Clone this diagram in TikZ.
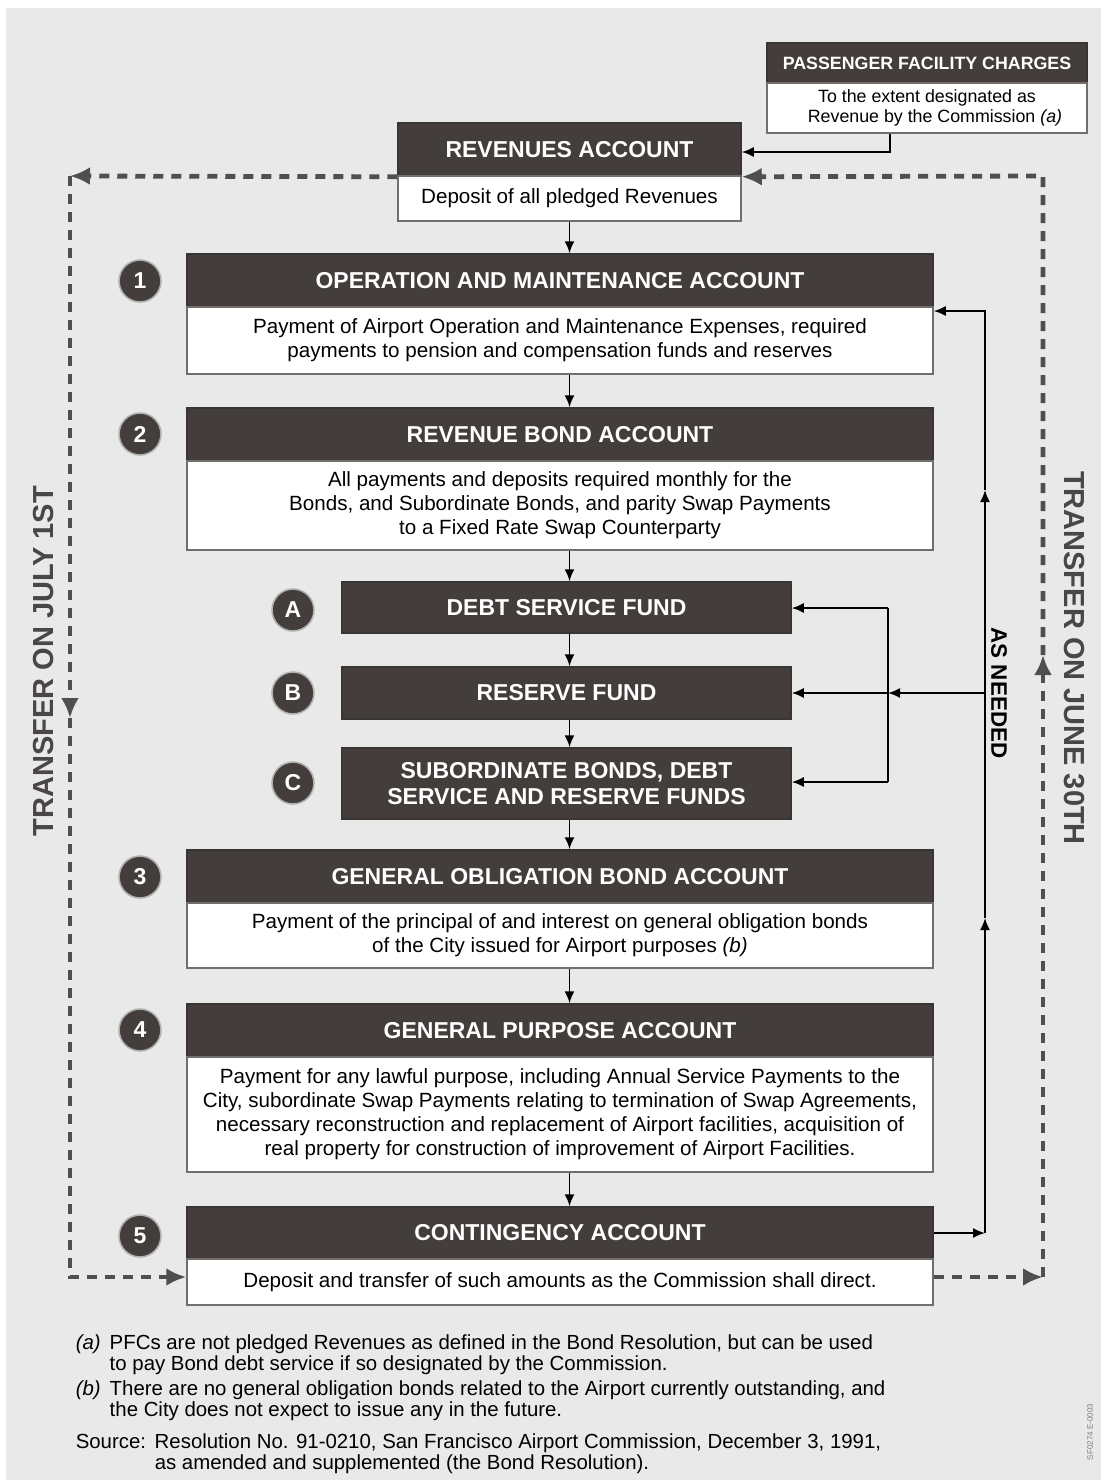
\documentclass[tikz,border=0pt]{standalone}
\usepackage{fontspec}
\setmainfont{Liberation Sans}
\usetikzlibrary{arrows.meta}

\definecolor{hdrgray}{HTML}{433E3B}
\definecolor{bggray}{HTML}{E9E9E9}
\definecolor{dashgray}{HTML}{4F4F4F}
\definecolor{txtgray}{HTML}{4A4646}

\tikzset{every picture/.style={line width=0.75pt}}
\tikzset{
	hdrbox/.style={draw=hdrgray!85!black, fill=hdrgray, text=white, inner sep=0pt, align=center, font=\bfseries\fontsize{11.5}{13}\selectfont},
	bodybox/.style={draw=hdrgray!75, fill=white, inner sep=0pt, align=center, font=\fontsize{10.3}{12}\selectfont},
	numcirc/.style={circle, fill=hdrgray, draw=gray!60, line width=0.8pt, minimum size=21pt, inner sep=0pt, text=white, font=\bfseries\fontsize{11.5}{11.5}\selectfont},
	flow/.style={-{Latex[length=6pt,width=5pt]}, line width=0.9pt, black},
	plainline/.style={line width=0.9pt, black},
	transferhead/.style={dashgray, line width=2.4pt, dash pattern=on 5pt off 4pt, -{Latex[length=10pt,width=9pt]}},
	transfertext/.style={text=txtgray, font=\bfseries\fontsize{14.5}{14.5}\selectfont},
	notetext/.style={anchor=north west, inner sep=0pt, align=left, font=\fontsize{10.2}{10.4}\selectfont},
}

\begin{document}
\begin{tikzpicture}[x=0.5pt,y=0.5pt,yscale=-1,xscale=1]
	%background
	\fill[white] (0,0) rectangle (1101,1483);
	\fill[bggray] (6,8) rectangle (1101,1480);
	
	%Passenger facility charges
	\node[hdrbox, minimum width=160pt, minimum height=20pt, font=\bfseries\fontsize{8.9}{10}\selectfont] (pfhd) at (927,63) {PASSENGER FACILITY CHARGES};
	\node[bodybox, minimum width=160pt, minimum height=25pt, font=\fontsize{8.9}{10}\selectfont] (pfbd) at (927,108) {To the extent designated as\\ \hspace*{8pt}Revenue by the Commission \textit{(a)}};
	
	%Revenues account
	\node[hdrbox, minimum width=171.5pt, minimum height=26.5pt] (revhd) at (569.5,149.5) {REVENUES ACCOUNT};
	\node[bodybox, minimum width=171.5pt, minimum height=22.5pt] (revbd) at (569.5,198.5) {Deposit of all pledged Revenues};
	
	%1
	\node[hdrbox, minimum width=373pt, minimum height=26.5pt] (omhd) at (560,280.5) {OPERATION AND MAINTENANCE ACCOUNT};
	\node[bodybox, minimum width=373pt, minimum height=33.5pt] (ombd) at (560,340.5) {Payment of Airport Operation and Maintenance Expenses, required\\ payments to pension and compensation funds and reserves};
	\node[numcirc] (n1) at (140,281) {1};
	
	%2
	\node[hdrbox, minimum width=373pt, minimum height=26.5pt] (rbhd) at (560,434.5) {REVENUE BOND ACCOUNT};
	\node[bodybox, minimum width=373pt, minimum height=44.5pt] (rbbd) at (560,505.5) {All payments and deposits required monthly for the\\ Bonds, and Subordinate Bonds, and parity Swap Payments\\ to a Fixed Rate Swap Counterparty};
	\node[numcirc] (n2) at (140,434) {2};
	
	%A B C
	\node[hdrbox, minimum width=224.5pt, minimum height=25.5pt] (dsf) at (566.5,607.5) {DEBT SERVICE FUND};
	\node[numcirc] (na) at (293,610) {A};
	\node[hdrbox, minimum width=224.5pt, minimum height=26pt] (rsf) at (566.5,693) {RESERVE FUND};
	\node[numcirc] (nb) at (293,693) {B};
	\node[hdrbox, minimum width=224.5pt, minimum height=35.5pt] (sub) at (566.5,783.5) {SUBORDINATE BONDS, DEBT\\ SERVICE AND RESERVE FUNDS};
	\node[numcirc] (nc) at (293,783) {C};
	
	%3
	\node[hdrbox, minimum width=373pt, minimum height=26.5pt] (gohd) at (560,876.5) {GENERAL OBLIGATION BOND ACCOUNT};
	\node[bodybox, minimum width=373pt, minimum height=32.5pt] (gobd) at (560,935.5) {Payment of the principal of and interest on general obligation bonds\\ of the City issued for Airport purposes \textit{(b)}};
	\node[numcirc] (n3) at (140,877) {3};
	
	%4
	\node[hdrbox, minimum width=373pt, minimum height=26.5pt] (gphd) at (560,1030.5) {GENERAL PURPOSE ACCOUNT};
	\node[bodybox, minimum width=373pt, minimum height=57.5pt] (gpbd) at (560,1114.5) {Payment for any lawful purpose, including Annual Service Payments to the\\ City, subordinate Swap Payments relating to termination of Swap Agreements,\\ necessary reconstruction and replacement of Airport facilities, acquisition of\\ real property for construction of improvement of Airport Facilities.};
	\node[numcirc] (n4) at (140,1030) {4};
	
	%5
	\node[hdrbox, minimum width=373pt, minimum height=26pt] (cthd) at (560,1233) {CONTINGENCY ACCOUNT};
	\node[bodybox, minimum width=373pt, minimum height=23pt] (ctbd) at (560,1282) {Deposit and transfer of such amounts as the Commission shall direct.};
	\node[numcirc] (n5) at (140,1236) {5};
	
	%down flow
	\draw[flow] (revbd.south) -- (omhd.north -| revbd.south);
	\draw[flow] (ombd.south -| revbd.south) -- (rbhd.north -| revbd.south);
	\draw[flow] (rbbd.south -| revbd.south) -- (dsf.north -| revbd.south);
	\draw[flow] (dsf.south -| revbd.south) -- (rsf.north -| revbd.south);
	\draw[flow] (rsf.south -| revbd.south) -- (sub.north -| revbd.south);
	\draw[flow] (sub.south -| revbd.south) -- (gohd.north -| revbd.south);
	\draw[flow] (gobd.south -| revbd.south) -- (gphd.north -| revbd.south);
	\draw[flow] (gpbd.south -| revbd.south) -- (cthd.north -| revbd.south);
	
	%PFC into revenues
	\coordinate (pf) at (890,152);
	\draw[flow] (pfbd.south -| pf) -- (pf) -- (revhd.east |- pf);
	
	%as needed
	\coordinate (r1) at (985,1233);
	\coordinate (upa) at (985,918);
	\coordinate (upb) at (985,490);
	\coordinate (r2) at (985,311);
	\coordinate (r3) at (985,693);
	\coordinate (br) at (888,693);
	\coordinate (bt) at (888,608);
	\coordinate (bb) at (888,782);
	\draw[flow] (cthd.east) -- (r1);
	\draw[flow] (r1) -- (upa);
	\draw[flow] (upa) -- (upb);
	\draw[flow] (upb) -- (r2) -- (ombd.east |- r2);
	\draw[flow] (r3) -- (br);
	\draw[flow] (br) -- (rsf.east);
	\draw[plainline] (bt) -- (bb);
	\draw[flow] (bt) -- (dsf.east |- bt);
	\draw[flow] (bb) -- (sub.east |- bb);
	\node[rotate=-90, font=\bfseries\fontsize{11.2}{11.2}\selectfont] (asn) at (999,693) {AS NEEDED};
	
	%transfer on july 1st
	\coordinate (tl) at (70,176);
	\coordinate (ml) at (70,718);
	\coordinate (bl) at (70,1277);
	\draw[transferhead] (revhd.south west) -- (tl);
	\draw[transferhead] (tl) -- (ml);
	\draw[transferhead] (ml) -- (bl) -- (ctbd.west |- bl);
	\node[transfertext, rotate=90] (jul) at (44,661) {TRANSFER ON JULY 1ST};
	
	%transfer on june 30th
	\coordinate (br1) at (1043,1277);
	\coordinate (mr) at (1043,655);
	\coordinate (tr) at (1043,176);
	\draw[transferhead] (ctbd.east |- br1) -- (br1);
	\draw[transferhead] (br1) -- (mr);
	\draw[transferhead] (mr) -- (tr) -- (revhd.south east);
	\node[transfertext, rotate=-90] (jun) at (1074,658) {TRANSFER ON JUNE 30TH};
	
	%notes
	\node[notetext] (nta) at (75,1334) {\makebox[17pt][l]{\textit{(a)}}PFCs are not pledged Revenues as defined in the Bond Resolution, but can be used\\ \hspace*{17pt}to pay Bond debt service if so designated by the Commission.};
	\node[notetext] (ntb) at (75,1380) {\makebox[17pt][l]{\textit{(b)}}There are no general obligation bonds related to the Airport currently outstanding, and\\ \hspace*{17pt}the City does not expect to issue any in the future.};
	\node[notetext] (src) at (75,1433) {\makebox[39.5pt][l]{Source:}Resolution No. 91-0210, San Francisco Airport Commission, December 3, 1991,\\ \hspace*{39.5pt}as amended and supplemented (the Bond Resolution).};
	\node[rotate=90, text=gray, font=\fontsize{4}{4}\selectfont] (code) at (1090,1432) {SF0274 E-0003};
	
\end{tikzpicture}
\end{document}
